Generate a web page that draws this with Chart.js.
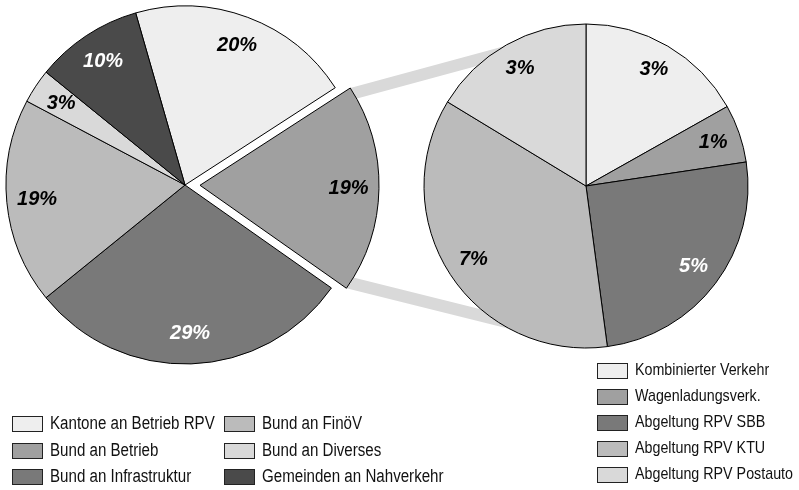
<!DOCTYPE html>
<html>
<head>
<meta charset="utf-8">
<script src="https://cdn.jsdelivr.net/npm/chart.js@4/dist/chart.umd.min.js"></script>
<style>
  body { margin: 0; background: #fff; }
  #wrap { position: relative; width: 799px; height: 490px; overflow: hidden;
          font-family: 'Liberation Sans', Arial, sans-serif; color: #111; }
  canvas { position: absolute; }
  #bands { left: 0; top: 0; z-index: 0; }
  #left { left: 0; top: 0; z-index: 1; }
  #right { left: 420px; top: 0; z-index: 1; }
  .item { position: absolute; white-space: nowrap; height: 16px; line-height: 16px; }
  .sw { position: absolute; left: 0; top: 0; width: 29px; height: 14px; border: 1px solid #222; }
  .txt { position: absolute; top: -1px; transform: scaleX(0.84); transform-origin: 0 50%; }
</style>
</head>
<body>
<div id="wrap">
  <canvas id="bands" width="799" height="490"></canvas>
  <canvas id="left" width="400" height="380"></canvas>
  <canvas id="right" width="332" height="372"></canvas>
  <div id="legendLeft"></div>
  <div id="legendRight"></div>
</div>
<script>
// left pie: shares of the total
const mainLabels = ['Kantone an Betrieb RPV', 'Bund an Betrieb', 'Bund an Infrastruktur',
                    'Bund an FinöV', 'Bund an Diverses', 'Gemeinden an Nahverkehr'];
const mainValues = [20.3, 18.9, 29.4, 18.6, 3.1, 9.7];
const mainColors = ['#eeeeee', '#a0a0a0', '#797979', '#bbbbbb', '#d9d9d9', '#4a4a4a'];
const mainTextColors = ['#000', '#000', '#fff', '#000', '#000', '#fff'];
const explodeIndex = 1; // "Bund an Betrieb" is split into the right pie

// right pie: breakdown of "Bund an Betrieb"
const detailLabels = ['Kombinierter Verkehr', 'Wagenladungsverk.', 'Abgeltung RPV SBB',
                      'Abgeltung RPV KTU', 'Abgeltung RPV Postauto'];
const detailValues = [3.2, 1.1, 4.8, 6.8, 3.1];
const detailColors = ['#eeeeee', '#a0a0a0', '#797979', '#bbbbbb', '#d9d9d9'];
const detailTextColors = ['#000', '#000', '#fff', '#000', '#000'];

// move the exploded slice out along its bisector
const explode = {
  id: 'explode',
  afterDatasetUpdate(chart, args, opts) {
    if (!opts.indexes) return;
    const meta = chart.getDatasetMeta(args.index);
    opts.indexes.forEach(i => {
      const arc = meta.data[i];
      const mid = (arc.startAngle + arc.endAngle) / 2;
      arc.x += Math.cos(mid) * opts.distance;
      arc.y += Math.sin(mid) * opts.distance;
    });
  }
};

const pctLabels = {
  id: 'pctLabels',
  afterDatasetsDraw(chart, args, opts) {
    const ctx = chart.ctx;
    const meta = chart.getDatasetMeta(0);
    const values = chart.data.datasets[0].data;
    ctx.save();
    ctx.font = 'italic bold 20px "Liberation Sans", Arial, sans-serif';
    ctx.textAlign = 'center';
    ctx.textBaseline = 'middle';
    meta.data.forEach((arc, i) => {
      const mid = (arc.startAngle + arc.endAngle) / 2;
      const r = arc.outerRadius * opts.position;
      ctx.fillStyle = opts.colors[i];
      ctx.fillText(Math.round(values[i]) + '%', arc.x + Math.cos(mid) * r, arc.y + Math.sin(mid) * r);
    });
    ctx.restore();
  }
};

const pieOptions = (radius, rotation, padding, textColors, explodeOpts) => ({
  responsive: false,
  animation: false,
  radius: radius,
  rotation: rotation,
  layout: { padding: padding },
  plugins: {
    legend: { display: false },
    tooltip: { enabled: false },
    explode: explodeOpts,
    pctLabels: { position: 0.83, colors: textColors }
  }
});

const mainChart = new Chart(document.getElementById('left'), {
  type: 'pie',
  data: {
    labels: mainLabels,
    datasets: [{ data: mainValues, backgroundColor: mainColors, borderColor: '#000', borderWidth: 1 }]
  },
  options: pieOptions(179, -16, { left: 0, top: 0, right: 30, bottom: 10 }, mainTextColors,
                      { indexes: [explodeIndex], distance: 15 }),
  plugins: [explode, pctLabels]
});

const detailChart = new Chart(document.getElementById('right'), {
  type: 'pie',
  data: {
    labels: detailLabels,
    datasets: [{ data: detailValues, backgroundColor: detailColors, borderColor: '#000', borderWidth: 1 }]
  },
  options: pieOptions(162, 0, 0, detailTextColors, {}),
  plugins: [explode, pctLabels]
});

// grey connector bands from the exploded slice to the top and bottom of the right pie
function band(ctx, a, b, side, w) {
  const dx = b.x - a.x, dy = b.y - a.y, len = Math.hypot(dx, dy);
  const nx = -dy / len * w * side, ny = dx / len * w * side;
  ctx.beginPath();
  ctx.moveTo(a.x, a.y);
  ctx.lineTo(b.x, b.y);
  ctx.lineTo(b.x + nx, b.y + ny);
  ctx.lineTo(a.x + nx, a.y + ny);
  ctx.closePath();
  ctx.fill();
}

function drawBands() {
  const ctx = document.getElementById('bands').getContext('2d');
  const lc = mainChart.canvas, rc = detailChart.canvas;
  const arc = mainChart.getDatasetMeta(0).data[explodeIndex];
  const ox = lc.offsetLeft + arc.x, oy = lc.offsetTop + arc.y, R = arc.outerRadius;
  const p1 = { x: ox + Math.cos(arc.startAngle) * R, y: oy + Math.sin(arc.startAngle) * R };
  const p2 = { x: ox + Math.cos(arc.endAngle) * R, y: oy + Math.sin(arc.endAngle) * R };
  const d = detailChart.getDatasetMeta(0).data[0];
  const cx = rc.offsetLeft + d.x, cy = rc.offsetTop + d.y, r = d.outerRadius;
  ctx.fillStyle = '#d9d9d9';
  band(ctx, p1, { x: cx, y: cy - r }, 1, 12);
  band(ctx, p2, { x: cx, y: cy + r }, -1, 12);
}
drawBands();

// legends
function buildLegend(el, labels, colors, x0, y0, colStep, rowStep, rows, fontSize) {
  labels.forEach((lab, i) => {
    const col = Math.floor(i / rows), row = i % rows;
    const item = document.createElement('div');
    item.className = 'item';
    item.style.left = (x0 + col * colStep) + 'px';
    item.style.top = (y0 + row * rowStep) + 'px';
    item.style.fontSize = fontSize + 'px';
    item.innerHTML = '<div class="sw" style="background:' + colors[i] + '"></div>' +
                     '<div class="txt" style="left:38px">' + lab + '</div>';
    el.appendChild(item);
  });
}
buildLegend(document.getElementById('legendLeft'), mainLabels, mainColors, 12, 416, 212, 26.5, 3, 18);
buildLegend(document.getElementById('legendRight'), detailLabels, detailColors, 597, 363, 0, 26, 5, 17);
</script>
</body>
</html>
